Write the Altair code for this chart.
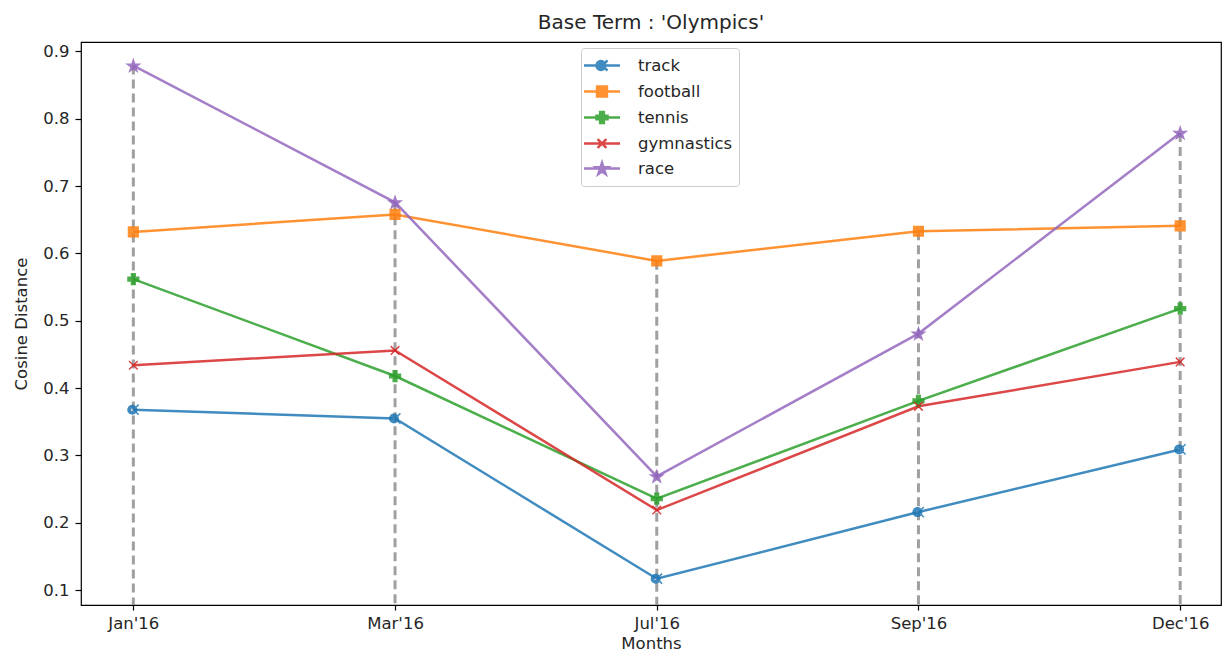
import math
import json
import altair as alt
import pandas as pd

# ---------------- data ----------------
months = ["Jan'16", "Mar'16", "Jul'16", "Sep'16", "Dec'16"]
series_names = ["track", "football", "tennis", "gymnastics", "race"]
track = [0.368, 0.355, 0.117, 0.216, 0.309]
football = [0.632, 0.658, 0.589, 0.633, 0.641]
tennis = [0.562, 0.418, 0.236, 0.381, 0.518]
gymnastics = [0.434, 0.456, 0.219, 0.373, 0.439]
race = [0.879, 0.676, 0.269, 0.481, 0.779]
colors = ["#1f77b4", "#ff7f0e", "#2ca02c", "#d62728", "#9467bd"]
y_ticks = [0.1, 0.2, 0.3, 0.4, 0.5, 0.6, 0.7, 0.8, 0.9]
y_domain = [0.078, 0.914]
x_domain = [-0.2, 4.156]

rows = []
for name, vals in zip(series_names, [track, football, tennis, gymnastics, race]):
    for i, (m, v) in enumerate(zip(months, vals)):
        rows.append({"month": m, "idx": i, "series": name, "value": v})
df = pd.DataFrame(rows)

# ---------------- marker shapes ----------------
def circle(cx, cy, r, cw=True):
    k = 0.5523 * r
    if cw:
        return [("M", cx + r, cy),
                ("C", cx + r, cy + k, cx + k, cy + r, cx, cy + r),
                ("C", cx - k, cy + r, cx - r, cy + k, cx - r, cy),
                ("C", cx - r, cy - k, cx - k, cy - r, cx, cy - r),
                ("C", cx + k, cy - r, cx + r, cy - k, cx + r, cy),
                ("Z",)]
    return [("M", cx + r, cy),
            ("C", cx + r, cy - k, cx + k, cy - r, cx, cy - r),
            ("C", cx - k, cy - r, cx - r, cy - k, cx - r, cy),
            ("C", cx - r, cy + k, cx - k, cy + r, cx, cy + r),
            ("C", cx + k, cy + r, cx + r, cy + k, cx + r, cy),
            ("Z",)]

alpha_shape = (circle(-0.2, 0, 0.8, True) + circle(-0.2, 0, 0.38, False)
               + [("M", 0.45, -0.4), ("L", 1.0, -0.95), ("M", 0.45, 0.4), ("L", 1.0, 0.95)])
square_shape = [("M", -0.9, -0.9), ("L", 0.9, -0.9), ("L", 0.9, 0.9), ("L", -0.9, 0.9), ("Z",)]
a, b = 0.34, 1.0
plus_shape = [("M", -a, -b), ("L", a, -b), ("L", a, -a), ("L", b, -a), ("L", b, a), ("L", a, a),
              ("L", a, b), ("L", -a, b), ("L", -a, a), ("L", -b, a), ("L", -b, -a), ("L", -a, -a), ("Z",)]
x_shape = [("M", -0.8, -0.8), ("L", 0.8, 0.8), ("M", -0.8, 0.8), ("L", 0.8, -0.8)]
star_shape = []
for i in range(10):
    ang = math.radians(-90 + i * 36)
    rad = 1.15 if i % 2 == 0 else 0.45
    star_shape.append(("M" if i == 0 else "L", rad * math.cos(ang), rad * math.sin(ang) + 0.1))
star_shape.append(("Z",))
shapes = [alpha_shape, square_shape, plus_shape, x_shape, star_shape]


def to_path(segs, k=1.0, dx=0.0):
    out = []
    for s in segs:
        if s[0] == "Z":
            out.append("Z")
            continue
        nums = s[1:]
        pts = [f"{nums[i] * k + dx:.3f},{nums[i + 1] * k:.3f}" for i in range(0, len(nums), 2)]
        out.append(s[0] + " ".join(pts))
    return "".join(out)


plot_paths = [to_path(s) for s in shapes]
legend_line = [("M", -1.45, 0), ("L", 2.15, 0)]
legend_paths = [to_path(legend_line) + to_path(s, 0.55, 0.35) for s in shapes]

FONT = "DejaVu Sans"
TXT = "#262626"

# ---------------- encodings ----------------
x_scale = alt.Scale(domain=x_domain, nice=False, zero=False)
x_axis = alt.Axis(title="Months", values=list(range(len(months))),
                  labelExpr=json.dumps(months) + "[datum.value]",
                  labelAngle=0, labelPadding=5, tickSize=5, titlePadding=4)
x_enc = alt.X("idx:Q", scale=x_scale, axis=x_axis)
y_scale = alt.Scale(domain=y_domain, nice=False, zero=False)
y_axis = alt.Axis(title="Cosine Distance", values=y_ticks, format=".1f",
                  labelPadding=6, tickSize=6, titlePadding=13)

base = alt.Chart(df)

rules = base.transform_aggregate(
    vmax="max(value)", groupby=["idx"]
).mark_rule(color="gray", strokeWidth=3, strokeDash=[9, 5], opacity=0.75).encode(
    x=x_enc,
    y=alt.Y("vmax:Q", scale=y_scale, axis=y_axis),
    y2=alt.datum(y_domain[0]),
)

lines = base.mark_line(strokeWidth=2.5, opacity=0.85).encode(
    x=x_enc,
    y=alt.Y("value:Q", scale=y_scale, axis=y_axis),
    color=alt.Color("series:N", scale=alt.Scale(domain=series_names, range=colors), legend=None),
    order=alt.Order("idx:Q"),
)

points = base.mark_point(filled=True, size=115, strokeWidth=1.5, opacity=0.85).encode(
    x=x_enc,
    y=alt.Y("value:Q", scale=y_scale, axis=y_axis),
    fill=alt.Fill("series:N", scale=alt.Scale(domain=series_names, range=colors), legend=None),
    stroke=alt.Stroke("series:N", scale=alt.Scale(domain=series_names, range=colors), legend=None),
    shape=alt.Shape("series:N", scale=alt.Scale(domain=series_names, range=plot_paths), legend=None),
)

leg = alt.Legend(
    title=None, orient="none", legendX=500, legendY=6, padding=6,
    strokeColor="#cccccc", fillColor="white", cornerRadius=3,
    symbolSize=400, symbolStrokeWidth=2.5, symbolOpacity=0.85,
    labelFont=FONT, labelFontSize=16.5, labelColor=TXT, labelOffset=28, rowPadding=4,
    labelLimit=0,
)

legend_layer = base.transform_filter("false").mark_point(filled=True, size=400, opacity=0.85).encode(
    x=x_enc,
    y=alt.Y("value:Q", scale=y_scale, axis=y_axis),
    fill=alt.Fill("series:N", scale=alt.Scale(domain=series_names, range=colors), legend=leg),
    stroke=alt.Stroke("series:N", scale=alt.Scale(domain=series_names, range=colors), legend=leg),
    shape=alt.Shape("series:N", scale=alt.Scale(domain=series_names, range=legend_paths), legend=leg),
)

chart = alt.layer(rules, lines, points, legend_layer).resolve_scale(
    fill="independent", stroke="independent", shape="independent"
).properties(
    width=1140,
    height=563,
    title=alt.TitleParams("Base Term : 'Olympics'", font=FONT, fontSize=20, fontWeight="normal",
                          color=TXT, anchor="middle", offset=9),
    autosize=alt.AutoSizeParams(type="none"),
    padding={"left": 73, "top": 34, "right": 1, "bottom": 47},
).configure_view(
    stroke="black", strokeWidth=1.2
).configure_axis(
    labelFont=FONT, labelFontSize=16.5, labelColor=TXT,
    titleFont=FONT, titleFontSize=16.5, titleFontWeight="normal", titleColor=TXT,
    tickColor="black", tickWidth=1.2, domain=False, grid=False,
)

chart.save("out.html", embed_options={"renderer": "svg", "actions": False})
